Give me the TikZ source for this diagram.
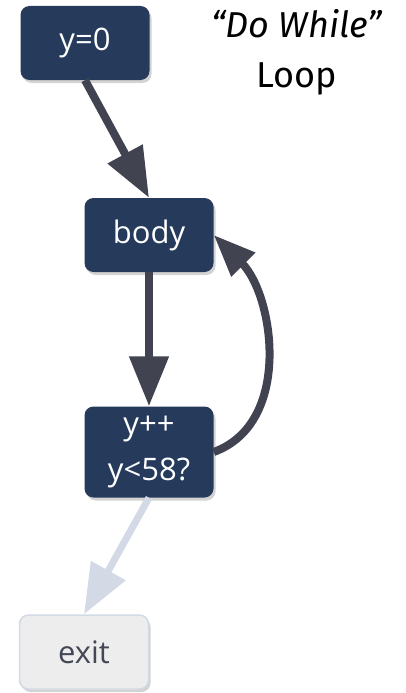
\documentclass[tikz,border=0pt]{standalone}
\usepackage{fontspec}
\setmainfont{Open Sans}
\newfontfamily\titlefont{Fira Sans}
\usepackage{tikz}
\usetikzlibrary{arrows.meta,shadows}

\definecolor{navy}{RGB}{38,58,92}
\definecolor{arrowgray}{RGB}{65,68,80}
\definecolor{paleblue}{RGB}{211,218,229}
\definecolor{exitfill}{RGB}{237,237,237}
\definecolor{exittext}{RGB}{68,71,86}

\begin{document}
\begin{tikzpicture}[
        x=1pt, y=1pt,
        box/.style={fill=navy, text=white, rounded corners=9pt, minimum width=129pt,
            minimum height=74pt, inner sep=0pt, font=\fontsize{31}{46}\selectfont,
            drop shadow={opacity=0.35, shadow xshift=2pt, shadow yshift=-3pt}},
        exitbox/.style={box, fill=exitfill, draw=paleblue, line width=1.5pt, text=exittext},
        ar/.style={-{Triangle[width=38pt, length=50pt]}, line width=8pt, draw=arrowgray},
        exitar/.style={ar, draw=paleblue, line width=7pt}
    ]
        \useasboundingbox (0,0) rectangle (405,-693);
        \node (init) [box] at (85,-43) {y=0};
        \node (body) [box] at (149,-235) {body};
        \node (cond) [box, minimum height=91pt, align=center] at (149,-452) {y++\\y<58?};
        \node (exit) [exitbox] at (84,-652) {exit};
        \node (title) [align=center, font=\titlefont\fontsize{36}{50}\selectfont] at (297,-52)
            {\textit{“Do While”}\\Loop};
        \draw[ar] (init.south) -- (body.north);
        \draw[ar] (body) -- (cond);
        \draw[ar, -{Triangle[width=32pt, length=42pt]}] (cond.east) to[out=20, in=-45] (body.east);
        \draw[exitar] (cond.south) -- (exit.north);
    \end{tikzpicture}
\end{document}
